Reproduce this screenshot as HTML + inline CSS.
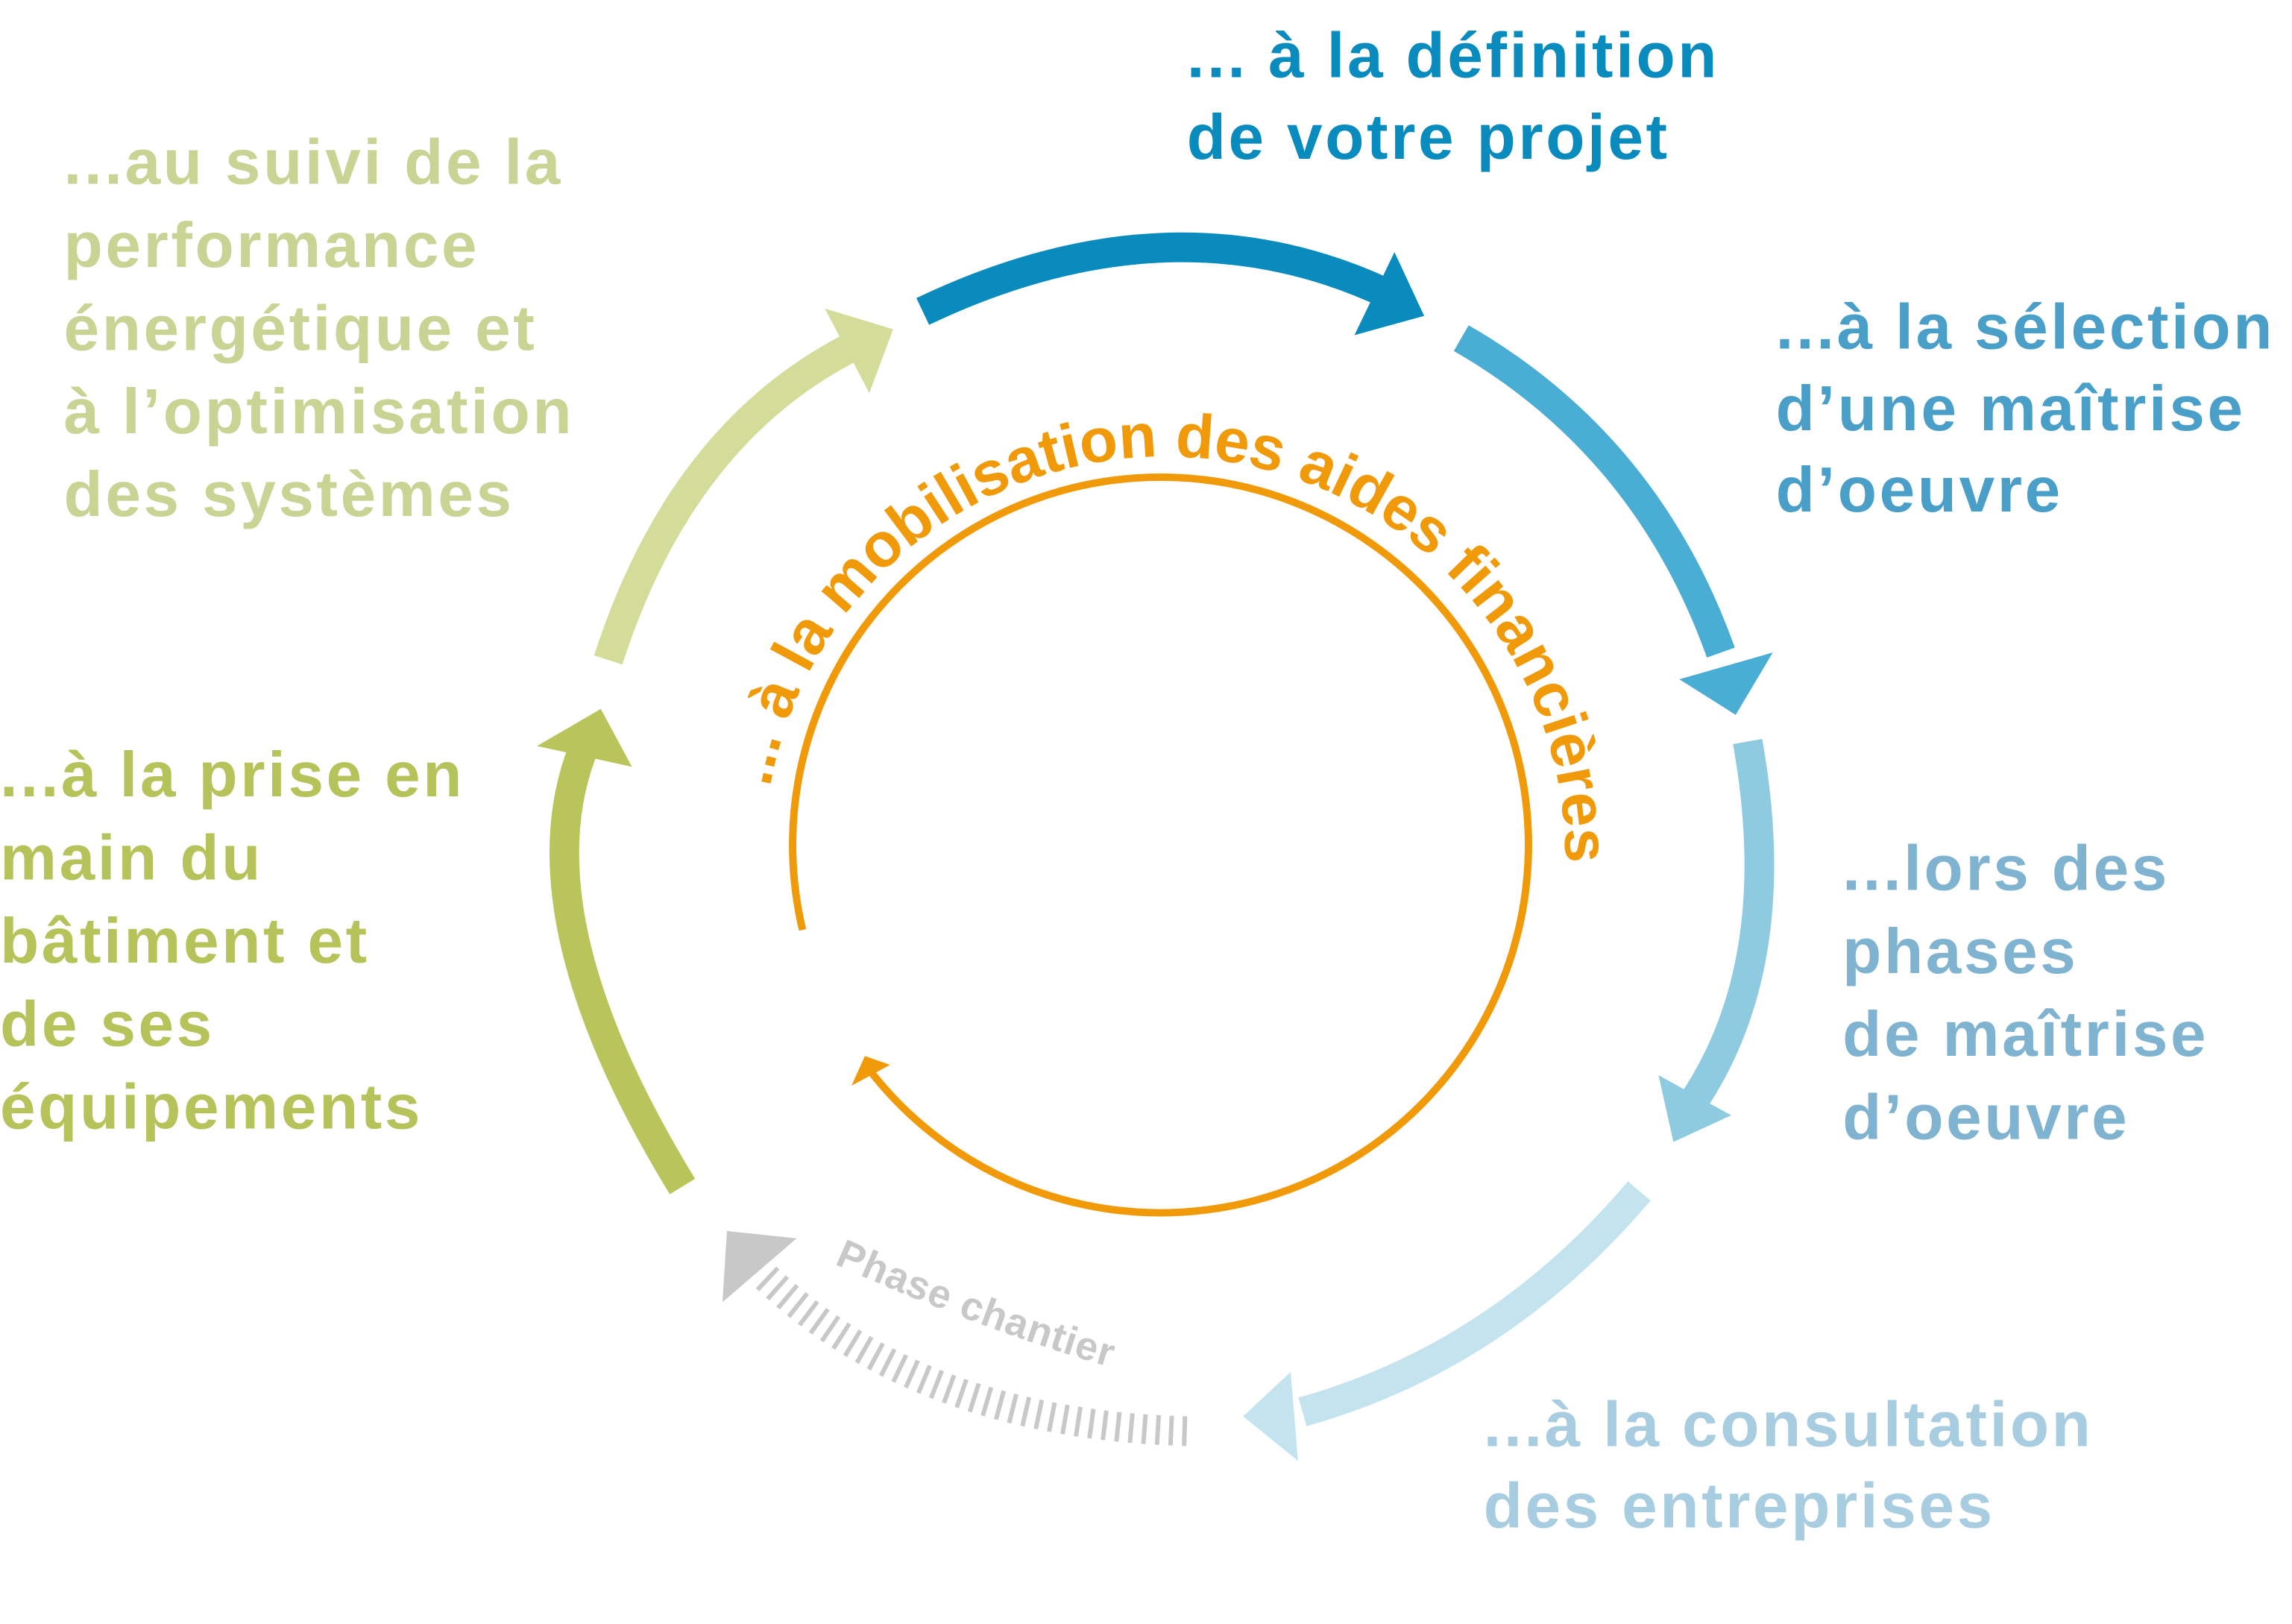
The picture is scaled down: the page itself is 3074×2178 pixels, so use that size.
<!DOCTYPE html>
<html><head><meta charset="utf-8"><style>
html,body{margin:0;padding:0;background:#fff;}
svg{display:block;}
text{font-family:"Liberation Sans",sans-serif;font-weight:bold;}
</style></head><body>
<svg width="3074" height="2178" viewBox="0 0 1545 1095" preserveAspectRatio="none" xmlns="http://www.w3.org/2000/svg">
<g fill="none" stroke-width="20">
<path d="M622,210 Q790,130 935,198" stroke="#0a8bbd"/>
<path d="M985,228 Q1110,300 1160,440" stroke="#4aadd4"/>
<path d="M1178,500 Q1205,650 1140,745" stroke="#8ecbe0"/>
<path d="M1105,803 Q1010,915 878,952" stroke="#c3e3ee"/>
<path d="M800,965 Q620,960 515,860" stroke="#c8c8c8" stroke-dasharray="3,6"/>
<path d="M460,800 Q350,620 392,508" stroke="#b9c55a"/>
<path d="M410,445 Q460,290 578,232" stroke="#d4dc9a"/>
</g>
<polygon points="913,226 940,170 960,213" fill="#0a8bbd"/>
<polygon points="1132,458 1195,440 1170,482" fill="#4aadd4"/>
<polygon points="1118,725 1128,770 1167,752" fill="#8ecbe0"/>
<polygon points="870,925 838,955 875,985" fill="#c3e3ee"/>
<polygon points="490,830 537,835 487,878" fill="#c8c8c8"/>
<polygon points="362,503 405,478 426,517" fill="#b9c55a"/>
<polygon points="556,208 602,222 586,265" fill="#d4dc9a"/>

<path d="M541,627 A248,248 0 1 1 585,720" fill="none" stroke="#f09a0a" stroke-width="5"/>
<polygon points="574,732 600,718 583,712" fill="#f09a0a"/>
<defs>
<path id="op" d="M519,531 A270,270 0 0 1 1051,625"/>
<path id="pc" d="M562,852 Q680,905 785,932"/>
</defs>
<text font-size="42" fill="#f09a0a"><textPath href="#op" textLength="805" lengthAdjust="spacing">... à la mobilisation des aides financières</textPath></text>
<text font-size="27" fill="#c8c8c8" letter-spacing="0.5"><textPath href="#pc">Phase chantier</textPath></text>

<g font-size="43" letter-spacing="1.8">
<text x="800" y="52" fill="#0a8bbd">... à la définition</text>
<text x="800" y="107" fill="#0a8bbd">de votre projet</text>
<g fill="#4a9fc8"><text x="1197" y="235">...à la sélection</text><text x="1197" y="290">d’une maîtrise</text><text x="1197" y="345">d’oeuvre</text></g>
<g fill="#7fb3cf"><text x="1242" y="600">...lors des</text><text x="1242" y="656">phases</text><text x="1242" y="712">de maîtrise</text><text x="1242" y="768">d’oeuvre</text></g>
<g fill="#a9cde0"><text x="1000" y="975">...à la consultation</text><text x="1000" y="1030">des entreprises</text></g>
<g fill="#b5c35a"><text x="0" y="537">...à la prise en</text><text x="0" y="593">main du</text><text x="0" y="649">bâtiment et</text><text x="0" y="705">de ses</text><text x="0" y="761">équipements</text></g>
<g fill="#c9d394"><text x="43" y="124">...au suivi de la</text><text x="43" y="180">performance</text><text x="43" y="236">énergétique et</text><text x="43" y="292">à l’optimisation</text><text x="43" y="348">des systèmes</text></g>
</g>
</svg>
</body></html>
